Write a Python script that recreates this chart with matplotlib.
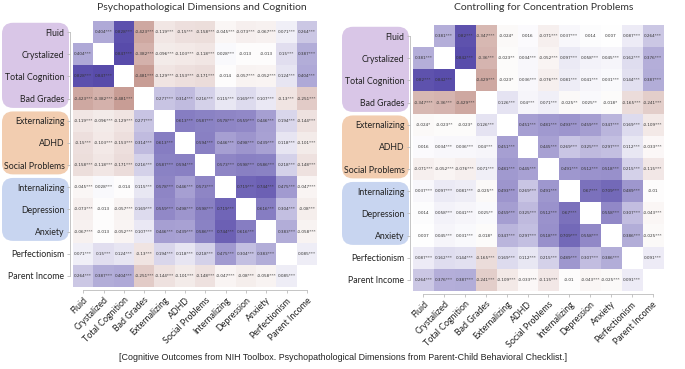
# Correlation heatmaps: raw and controlling for concentration problems.
import numpy as np
import matplotlib.pyplot as plt
from matplotlib.colors import LinearSegmentedColormap
from matplotlib.patches import FancyBboxPatch
from matplotlib.transforms import IdentityTransform

plt.rcParams['font.family'] = ['Lato', 'DejaVu Sans']

labels = ["Fluid", "Crystalized", "Total Cognition", "Bad Grades", "Externalizing", "ADHD",
          "Social Problems", "Internalizing", "Depression", "Anxiety", "Perfectionism", "Parent Income"]

# Label groups (first row, last row, colour of the rounded box behind the labels).
groups = [(0, 3, "#d9c6e7"), (4, 6, "#f2cdb0"), (7, 9, "#c8d5f0")]

raw_corr = [
    [0, 0.404, 0.828, -0.423, -0.119, -0.15, -0.158, -0.045, -0.073, -0.067, 0.071, 0.264],
    [0.404, 0, 0.847, -0.382, -0.096, -0.103, -0.118, 0.028, -0.013, -0.013, 0.15, 0.387],
    [0.828, 0.847, 0, -0.481, -0.129, -0.153, -0.171, -0.014, -0.057, -0.052, 0.124, 0.404],
    [-0.423, -0.382, -0.481, 0, 0.277, 0.314, 0.216, 0.115, 0.169, 0.107, -0.13, -0.251],
    [-0.119, -0.096, -0.129, 0.277, 0, 0.613, 0.587, 0.578, 0.559, 0.446, 0.194, -0.144],
    [-0.15, -0.103, -0.153, 0.314, 0.613, 0, 0.594, 0.446, 0.498, 0.439, 0.118, -0.101],
    [-0.158, -0.118, -0.171, 0.216, 0.587, 0.594, 0, 0.573, 0.598, 0.586, 0.218, -0.148],
    [-0.045, 0.028, -0.014, 0.115, 0.578, 0.446, 0.573, 0, 0.719, 0.744, 0.475, -0.047],
    [-0.073, -0.013, -0.057, 0.169, 0.559, 0.498, 0.598, 0.719, 0, 0.616, 0.304, -0.08],
    [-0.067, -0.013, -0.052, 0.107, 0.446, 0.439, 0.586, 0.744, 0.616, 0, 0.383, -0.058],
    [0.071, 0.15, 0.124, -0.13, 0.194, 0.118, 0.218, 0.475, 0.304, 0.383, 0, 0.085],
    [0.264, 0.387, 0.404, -0.251, -0.144, -0.101, -0.148, -0.047, -0.08, -0.058, 0.085, 0],
]
raw_stars = [
    [0, 3, 3, 3, 3, 3, 3, 3, 3, 3, 3, 3],
    [3, 0, 3, 3, 3, 3, 3, 3, 0, 0, 3, 3],
    [3, 3, 0, 3, 3, 3, 3, 0, 3, 3, 3, 3],
    [3, 3, 3, 0, 3, 3, 3, 3, 3, 3, 3, 3],
    [3, 3, 3, 3, 0, 3, 3, 3, 3, 3, 3, 3],
    [3, 3, 3, 3, 3, 0, 3, 3, 3, 3, 3, 3],
    [3, 3, 3, 3, 3, 3, 0, 3, 3, 3, 3, 3],
    [3, 3, 0, 3, 3, 3, 3, 0, 3, 3, 3, 3],
    [3, 0, 3, 3, 3, 3, 3, 3, 0, 3, 3, 3],
    [3, 0, 3, 3, 3, 3, 3, 3, 3, 0, 3, 3],
    [3, 3, 3, 3, 3, 3, 3, 3, 3, 3, 0, 3],
    [3, 3, 3, 3, 3, 3, 3, 3, 3, 3, 3, 0],
]

partial_corr = [
    [0, 0.381, 0.82, -0.347, -0.024, 0.016, -0.071, 0.037, 0.014, 0.007, 0.087, 0.264],
    [0.381, 0, 0.842, -0.36, -0.023, 0.034, -0.052, 0.097, 0.058, 0.045, 0.162, 0.376],
    [0.82, 0.842, 0, -0.429, -0.023, 0.036, -0.076, 0.081, 0.041, 0.031, 0.144, 0.387],
    [-0.347, -0.36, -0.429, 0, 0.126, 0.04, 0.071, -0.025, 0.025, -0.018, -0.165, -0.241],
    [-0.024, -0.023, -0.023, 0.126, 0, 0.451, 0.481, 0.493, 0.459, 0.347, 0.169, -0.109],
    [0.016, 0.034, 0.036, 0.04, 0.451, 0, 0.445, 0.269, 0.325, 0.297, 0.112, -0.033],
    [-0.071, -0.052, -0.076, 0.071, 0.481, 0.445, 0, 0.491, 0.512, 0.518, 0.215, -0.115],
    [0.037, 0.097, 0.081, -0.025, 0.493, 0.269, 0.491, 0, 0.67, 0.709, 0.489, -0.01],
    [0.014, 0.058, 0.041, 0.025, 0.459, 0.325, 0.512, 0.67, 0, 0.558, 0.307, -0.043],
    [0.007, 0.045, 0.031, -0.018, 0.347, 0.297, 0.518, 0.709, 0.558, 0, 0.386, -0.025],
    [0.087, 0.162, 0.144, -0.165, 0.169, 0.112, 0.215, 0.489, 0.307, 0.386, 0, 0.091],
    [0.264, 0.376, 0.387, -0.241, -0.109, -0.033, -0.115, -0.01, -0.043, -0.025, 0.091, 0],
]
partial_stars = [
    [0, 3, 3, 3, 1, 0, 3, 3, 0, 0, 3, 3],
    [3, 0, 3, 3, 2, 3, 3, 3, 3, 3, 3, 3],
    [3, 3, 0, 3, 1, 3, 3, 3, 3, 3, 3, 3],
    [3, 3, 3, 0, 3, 3, 3, 2, 2, 1, 3, 3],
    [1, 2, 1, 3, 0, 3, 3, 3, 3, 3, 3, 3],
    [0, 3, 3, 3, 3, 0, 3, 3, 3, 3, 3, 3],
    [3, 3, 3, 3, 3, 3, 0, 3, 3, 3, 3, 3],
    [3, 3, 3, 2, 3, 3, 3, 0, 3, 3, 3, 0],
    [0, 3, 3, 2, 3, 3, 3, 3, 0, 3, 3, 3],
    [0, 3, 3, 1, 3, 3, 3, 3, 3, 0, 3, 3],
    [3, 3, 3, 3, 3, 3, 3, 3, 3, 3, 0, 3],
    [3, 3, 3, 3, 3, 3, 3, 0, 3, 3, 3, 0],
]

cmap = LinearSegmentedColormap.from_list("red_purple", ["#8e3424", "#ffffff", "#3b2c9c"])

W, H = 685, 369
fig = plt.figure(figsize=(W / 100, H / 100), dpi=100)


def draw_panel(left, top, width, height, corr, stars, title, title_x, title_y):
    # Axes placed in pixel units of the reference picture.
    ax = fig.add_axes([left / W, 1 - (top + height) / H, width / W, height / H])
    corr = np.array(corr)
    n = len(labels)
    masked = np.ma.masked_where(np.eye(n, dtype=bool), corr)
    ax.imshow(masked, cmap=cmap, vmin=-1, vmax=1, aspect="auto")
    for i in range(n):
        for j in range(n):
            if i != j:
                ax.text(j, i, f"{corr[i, j]:g}" + "*" * stars[i][j],
                        ha="center", va="center", fontsize=3, color="#333333",
                        family="DejaVu Sans")

    # Spines first: moving a spine resets the ticks.
    for s in ["top", "right"]:
        ax.spines[s].set_visible(False)
    for s in ["left", "bottom"]:
        ax.spines[s].set_position(("outward", 2.5))
        ax.spines[s].set_color("#bbbbbb")
        ax.spines[s].set_linewidth(0.6)
        ax.spines[s].set_bounds(0, n - 1)

    ax.set_xticks(range(n))
    ax.set_yticks(range(n))
    ax.tick_params(length=2.5, color="#bbbbbb", width=0.6, pad=1.2, labelcolor="#222222")
    ax.set_xticklabels(labels, fontsize=6.4, rotation=45, ha="right", rotation_mode="anchor")
    ax.set_yticklabels(labels, fontsize=6.3)

    # Rounded boxes behind groups of y labels, built in display pixels.
    ax_left = ax.transAxes.transform((0, 0))[0]
    for first, last, color in groups:
        y_top = ax.transData.transform((0, first - 0.42))[1]
        y_bot = ax.transData.transform((0, last + 0.42))[1]
        x0 = ax_left - 71
        x1 = ax_left - 4
        box = FancyBboxPatch((x0, y_bot), x1 - x0, y_top - y_bot,
                             boxstyle="round,pad=0,rounding_size=11",
                             facecolor=color, edgecolor="none",
                             transform=IdentityTransform(), zorder=-1)
        fig.add_artist(box)

    fig.text(title_x / W, 1 - title_y / H, title, ha="center", va="center",
             fontsize=7.5, color="#333333")
    return ax


draw_panel(73, 21, 244, 266, raw_corr, raw_stars,
           "Psychopathological Dimensions and Cognition", 202, 7)
draw_panel(413, 25, 250, 266, partial_corr, partial_stars,
           "Controlling for Concentration Problems", 544, 8)

fig.text(343 / W, 1 - 357 / H,
         "[Cognitive Outcomes from NIH Toolbox. Psychopathological Dimensions from "
         "Parent-Child Behavioral Checklist.]",
         ha="center", va="center", fontsize=6.4, family="Liberation Sans", color="#222222")

fig.savefig("out.png", dpi=100)
